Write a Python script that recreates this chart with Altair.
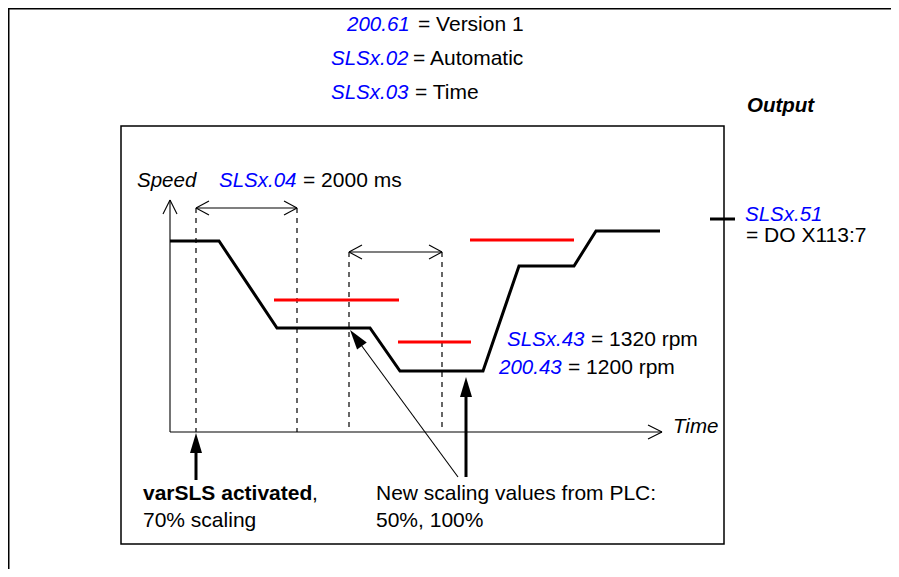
import altair as alt
import pandas as pd

# ---- diagram data (page-pixel units of the drawing) ----
# speed profile (time, speed)
profile_t = [170, 219, 277, 370, 400, 483, 519, 574, 596, 660]
profile_s = [241, 241, 328, 328, 371, 371, 266, 266, 231, 231]

# red speed-limit levels (start, end, level)
limit_x1 = [274, 398, 470]
limit_x2 = [399, 471, 574]
limit_y = [300, 342, 240]

# dashed timing markers
dash_x = [196, 297, 349, 442]
dash_top = [208, 208, 252, 252]
dash_bottom = [432, 432, 432, 432]

# thin line segments: axes, chevrons, interval arrows, pointer
thin_x1 = [170, 170, 170, 170, 662, 662, 196, 196, 196, 297, 297, 349, 349, 349, 442, 442, 458]
thin_y1 = [432, 200, 200, 432, 432, 432, 208, 208, 208, 208, 208, 252, 252, 252, 252, 252, 477]
thin_x2 = [170, 163, 177, 662, 648, 648, 297, 209, 209, 284, 284, 442, 362, 362, 429, 429, 356]
thin_y2 = [200, 214, 214, 432, 425, 439, 208, 201, 215, 201, 215, 252, 245, 259, 245, 259, 338]

# thick segments: output tick and pointer shafts
thick_x1 = [710, 196, 466]
thick_y1 = [219, 480, 477]
thick_x2 = [735, 196, 466]
thick_y2 = [219, 445, 390]

# filled arrow heads (centre x, centre y, direction angle)
head_x = [196, 466, 356]
head_y = [443, 387, 338]
head_angle = [0, 0, 323.7]

# frames
box_x1 = [121]
box_x2 = [724]
box_y1 = [126]
box_y2 = [544]

# texts by style
blue_text = ["200.61", "SLSx.02", "SLSx.03", "SLSx.04", "SLSx.51", "SLSx.43", "200.43"]
blue_x = [347, 331, 331, 219, 745, 507, 499]
blue_y = [31, 65, 99, 187, 221, 346, 374]

plain_text = ["= Version 1", "= Automatic", "= Time", "= 2000 ms", "= DO X113:7",
              "= 1320 rpm", "= 1200 rpm", ",", "70% scaling",
              "New scaling values from PLC:", "50%, 100%"]
plain_x = [418, 413, 415, 303, 746, 591, 568, 312, 143, 376, 376]
plain_y = [31, 65, 99, 187, 242, 346, 374, 500, 527, 500, 527]

italic_text = ["Speed", "Time"]
italic_x = [137, 673]
italic_y = [187, 433]

bolditalic_text = ["Output"]
bolditalic_x = [747]
bolditalic_y = [112]

bold_text = ["varSLS activated"]
bold_x = [143]
bold_y = [500]

FONT = "Liberation Sans"
FS_IT = 20.5
FS = 21
BLUE = "#0000ff"
RED = "#ff0000"

X = alt.Scale(domain=[8, 891], nice=False, zero=False)
Y = alt.Scale(domain=[8, 569], reverse=True, nice=False, zero=False)


def seg_layer(x1, y1, x2, y2, **mark):
    df = pd.DataFrame({"x": x1, "y": y1, "x2": x2, "y2": y2})
    return alt.Chart(df).mark_rule(**mark).encode(
        x=alt.X("x:Q", scale=X, axis=None),
        y=alt.Y("y:Q", scale=Y, axis=None),
        x2="x2:Q",
        y2="y2:Q",
    )


def text_layer(texts, xs, ys, size, **mark):
    df = pd.DataFrame({"x": xs, "y": ys, "t": texts})
    return alt.Chart(df).mark_text(
        align="left", baseline="alphabetic", font=FONT, fontSize=size, **mark
    ).encode(
        x=alt.X("x:Q", scale=X, axis=None),
        y=alt.Y("y:Q", scale=Y, axis=None),
        text="t:N",
    )


outer = seg_layer([8.75, 8], [8, 8.75], [8.75, 891], [569, 8.75], color="black", strokeWidth=1.5)

box = alt.Chart(pd.DataFrame({"x": box_x1, "x2": box_x2, "y": box_y1, "y2": box_y2})).mark_rect(
    fill="white", fillOpacity=0, stroke="black", strokeWidth=1.5
).encode(
    x=alt.X("x:Q", scale=X, axis=None), x2="x2:Q",
    y=alt.Y("y:Q", scale=Y, axis=None), y2="y2:Q",
)

dashed = seg_layer(dash_x, dash_top, dash_x, dash_bottom, color="black", strokeWidth=1.2,
                   strokeDash=[5, 5])
thin = seg_layer(thin_x1, thin_y1, thin_x2, thin_y2, color="black", strokeWidth=1.1)
limits = seg_layer(limit_x1, limit_y, limit_x2, limit_y, color=RED, strokeWidth=3)
thick = seg_layer(thick_x1, thick_y1, thick_x2, thick_y2, color="black", strokeWidth=3)

profile = alt.Chart(pd.DataFrame({"t": profile_t, "s": profile_s})).mark_line(
    color="black", strokeWidth=3, strokeJoin="miter"
).encode(
    x=alt.X("t:Q", scale=X, axis=None),
    y=alt.Y("s:Q", scale=Y, axis=None),
    order="t:Q",
)

heads = alt.Chart(pd.DataFrame({"x": head_x, "y": head_y, "a": head_angle})).mark_point(
    shape="M0,-1L0.6,1L-0.6,1Z", filled=True, color="black", opacity=1, size=400
).encode(
    x=alt.X("x:Q", scale=X, axis=None),
    y=alt.Y("y:Q", scale=Y, axis=None),
    angle=alt.Angle("a:Q", scale=None),
)

texts = [
    text_layer(blue_text, blue_x, blue_y, FS_IT, color=BLUE, fontStyle="italic"),
    text_layer(plain_text, plain_x, plain_y, FS, color="black"),
    text_layer(italic_text, italic_x, italic_y, FS_IT, color="black", fontStyle="italic"),
    text_layer(bolditalic_text, bolditalic_x, bolditalic_y, FS_IT, color="black",
               fontStyle="italic", fontWeight="bold"),
    text_layer(bold_text, bold_x, bold_y, FS, color="black", fontWeight="bold"),
]

chart = alt.layer(
    outer, box, dashed, thin, limits, profile, thick, heads, *texts
).properties(
    width=883, height=561, padding=0, autosize=alt.AutoSizeParams(type="none")
).configure_view(stroke=None)

chart.save("out.html", embed_options={"renderer": "svg", "actions": False})
